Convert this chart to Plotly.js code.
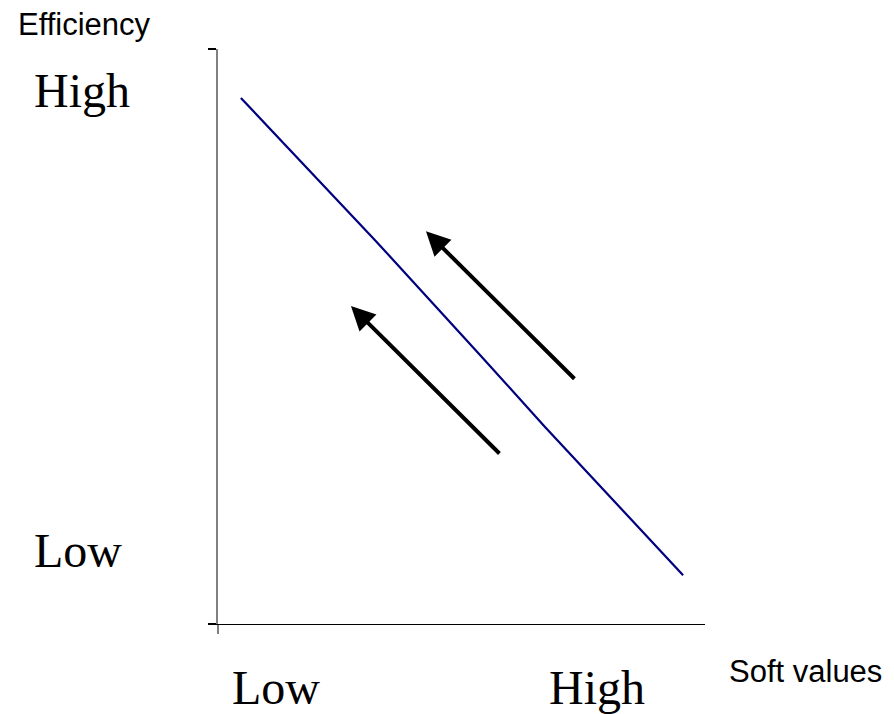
<!DOCTYPE html>
<html>
<head>
<meta charset="utf-8">
<script src="https://cdn.plot.ly/plotly-3.0.1.min.js"></script>
<style>html,body{margin:0;padding:0;background:#fff;}#chart{width:894px;height:714px;}</style>
</head>
<body>
<div id="chart"></div>
<script>
// Trade-off line: soft values (x) vs efficiency (y), 0-100 scale
const softValues = [4.7, 23.0, 32.2, 53.8, 67.1, 95.5];
const efficiency = [91.5, 75.1, 66.8, 46.8, 34.3, 8.5];

// Arrows: [tailX, tailY, headX, headY]
const arrowTailX = [73.5, 58.1];
const arrowTailY = [42.4, 29.4];
const arrowHeadX = [42.7, 27.3];
const arrowHeadY = [68.3, 55.3];

// Category labels
const xTickLabels = ['Low', 'High'];
const yTickLabels = ['Low', 'High'];
const xAxisTitle = 'Soft values';
const yAxisTitle = 'Efficiency';

const serif = 'Liberation Serif, Times New Roman, serif';
const sans = 'Liberation Sans, Arial, sans-serif';

const annotations = [];
for (let i = 0; i < arrowTailX.length; i++) {
  annotations.push({
    x: arrowHeadX[i], y: arrowHeadY[i], xref: 'x', yref: 'y',
    ax: arrowTailX[i], ay: arrowTailY[i], axref: 'x', ayref: 'y',
    showarrow: true, arrowhead: 2, arrowsize: 1.2, arrowwidth: 4,
    arrowcolor: '#000000', text: '', standoff: 0, startstandoff: 0
  });
}
// x category labels
const xLabelPos = [0.025, 0.6756];
xTickLabels.forEach((t, i) => annotations.push({
  text: t, xref: 'paper', yref: 'paper', x: xLabelPos[i], y: -0.11,
  xanchor: 'left', yanchor: 'middle', showarrow: false,
  font: {family: serif, size: 48, color: '#000'}
}));
// y category labels
const yLabelPos = [0.128, 0.928];
yTickLabels.forEach((t, i) => annotations.push({
  text: t, xref: 'paper', yref: 'paper', x: -0.382, y: yLabelPos[i],
  xanchor: 'left', yanchor: 'middle', showarrow: false,
  font: {family: serif, size: 48, color: '#000'}
}));
annotations.push({
  text: yAxisTitle, xref: 'paper', yref: 'paper', x: -0.414, y: 1.042,
  xanchor: 'left', yanchor: 'middle', showarrow: false,
  font: {family: sans, size: 31, color: '#000'}
});
annotations.push({
  text: xAxisTitle, xref: 'paper', yref: 'paper', x: 1.045, y: -0.083,
  xanchor: 'left', yanchor: 'middle', showarrow: false,
  font: {family: sans, size: 31, color: '#000'}
});

const data = [{
  x: softValues, y: efficiency, type: 'scatter', mode: 'lines',
  line: {color: '#000080', width: 2.2}, hoverinfo: 'skip'
}];

const layout = {
  width: 894, height: 714,
  margin: {l: 218, r: 189, t: 49, b: 90, pad: 0},
  paper_bgcolor: '#ffffff', plot_bgcolor: '#ffffff',
  showlegend: false,
  xaxis: {
    range: [0, 100], showgrid: false, zeroline: false,
    showline: true, linecolor: '#000000', linewidth: 1.4,
    tickmode: 'array', tickvals: [0], ticks: 'outside', ticklen: 9,
    tickcolor: '#808080', tickwidth: 1.6, showticklabels: false
  },
  yaxis: {
    range: [0, 100], showgrid: false, zeroline: false,
    showline: true, linecolor: '#808080', linewidth: 1.6,
    tickmode: 'array', tickvals: [0, 100], ticks: 'outside', ticklen: 8,
    tickcolor: '#000000', tickwidth: 1.4, showticklabels: false
  },
  annotations: annotations
};

Plotly.newPlot('chart', data, layout, {staticPlot: true, displayModeBar: false});
</script>
</body>
</html>
